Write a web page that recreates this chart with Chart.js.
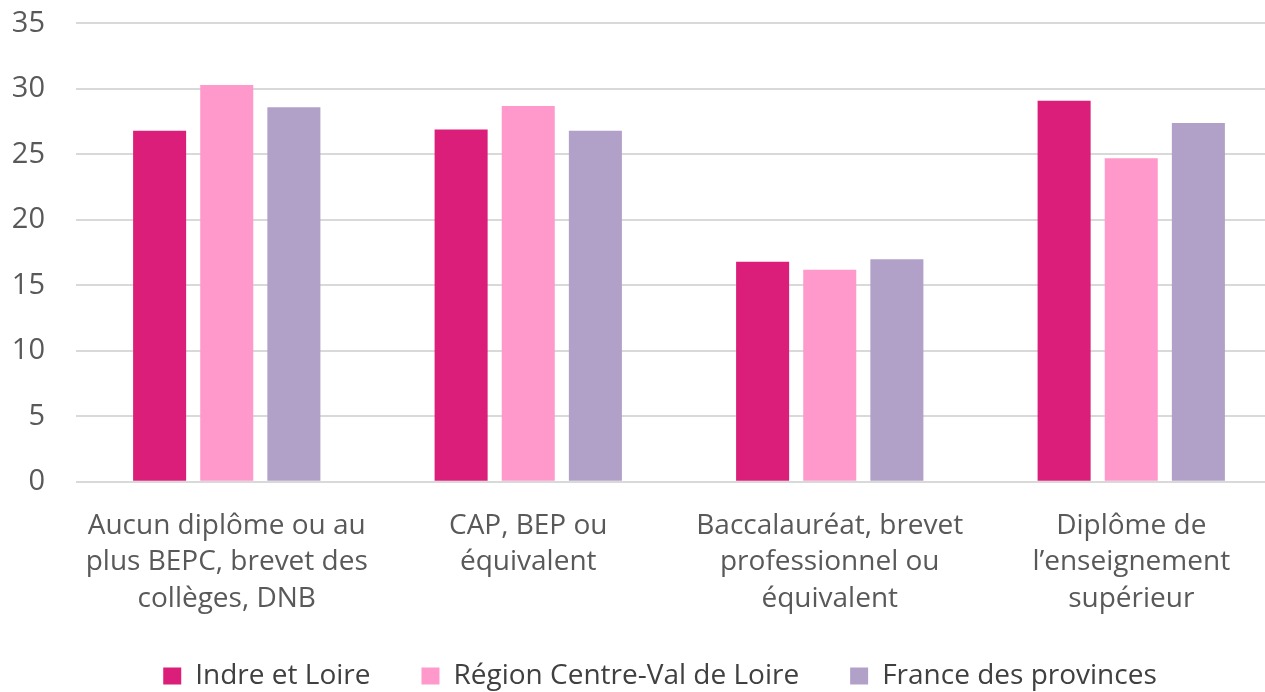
<!DOCTYPE html>
<html>
<head>
<meta charset="utf-8">
<script src="https://cdn.jsdelivr.net/npm/chart.js@4"></script>
<style>
  html, body { margin: 0; padding: 0; background: #fff; overflow: hidden; }
  #wrap { width: 1282px; height: 757px; margin-top: -25px; }
</style>
</head>
<body>
<div id="wrap"><canvas id="chart" width="1282" height="757"></canvas></div>
<script>
const categories = [
  ['Aucun diplôme ou au', 'plus BEPC, brevet des', 'collèges, DNB'],
  ['CAP, BEP ou', 'équivalent'],
  ['Baccalauréat, brevet', 'professionnel ou', 'équivalent'],
  ['Diplôme de', 'l\u2019enseignement', 'supérieur']
];
const indreEtLoire = [26.8, 26.9, 16.8, 29.1];
const regionCentre = [30.3, 28.7, 16.2, 24.7];
const franceProvinces = [28.6, 26.8, 17.0, 27.4];
const yTicks = [0, 5, 10, 15, 20, 25, 30, 35];

const textColor = '#595959';
const fontFamily = '"Open Sans", "Liberation Sans", sans-serif';

// move the legend row up/right a bit without touching the item spacing
const shiftLegend = {
  id: 'shiftLegend',
  afterLayout(chart) {
    const lg = chart.legend;
    lg.top -= 32;
    lg.bottom -= 32;
    lg.left += 19;
    lg.right += 19;
  }
};

const ctx = document.getElementById('chart').getContext('2d');

new Chart(ctx, {
  type: 'bar',
  data: {
    labels: categories,
    datasets: [
      { label: 'Indre et Loire', data: indreEtLoire, backgroundColor: '#DB1E7A' },
      { label: 'Région Centre-Val de Loire', data: regionCentre, backgroundColor: '#FF99CC' },
      { label: 'France des provinces', data: franceProvinces, backgroundColor: '#B1A0C7' }
    ]
  },
  plugins: [shiftLegend],
  options: {
    responsive: false,
    animation: false,
    layout: { padding: 0 },
    datasets: {
      bar: { categoryPercentage: 0.668, barPercentage: 0.79 }
    },
    plugins: {
      tooltip: { enabled: false },
      legend: {
        position: 'bottom',
        labels: {
          color: '#404040',
          font: { family: fontFamily, size: 28 },
          boxWidth: 18,
          boxHeight: 17,
          padding: 51
        }
      }
    },
    scales: {
      x: {
        grid: { display: false, drawTicks: false },
        border: { display: false },
        ticks: {
          color: textColor,
          font: { family: fontFamily, size: 28, lineHeight: 1.3 },
          maxRotation: 0,
          autoSkip: false,
          padding: 26
        }
      },
      y: {
        min: 0,
        max: 35,
        afterBuildTicks: axis => { axis.ticks = yTicks.map(v => ({ value: v })); },
        afterFit: axis => { axis.width = 76; },
        grid: { color: '#D9D9D9', lineWidth: 2, drawTicks: false },
        border: { display: false },
        ticks: {
          color: textColor,
          font: { family: fontFamily, size: 29 },
          padding: 31
        }
      }
    }
  }
});
</script>
</body>
</html>
